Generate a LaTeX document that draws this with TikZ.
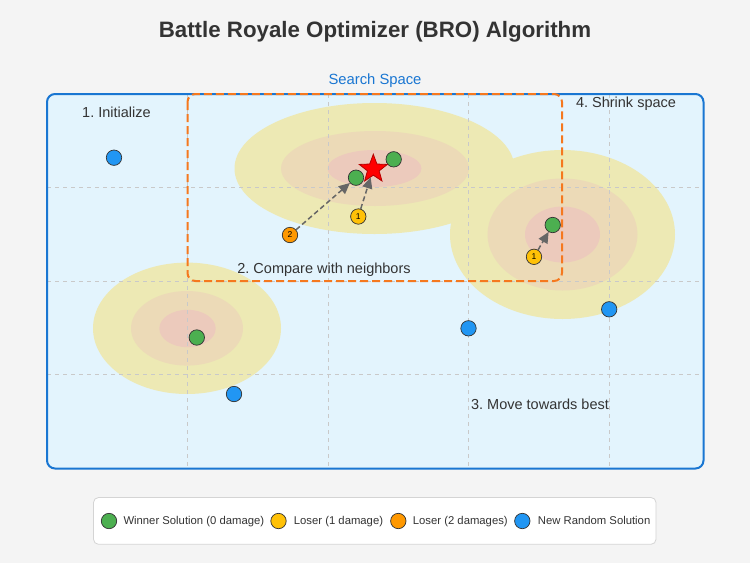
\documentclass[tikz,border=0pt]{standalone}
\usepackage{fontspec}
\setmainfont{Liberation Sans}
\usetikzlibrary{shapes.geometric,arrows.meta}
\frenchspacing
\definecolor{bgc}{HTML}{F4F4F4}
\definecolor{txt}{HTML}{333333}
\definecolor{boxblue}{HTML}{1976D2}
\definecolor{boxfill}{HTML}{E3F4FD}
\definecolor{gridc}{HTML}{C9C9C9}
\definecolor{zoneA}{HTML}{EDE9B4}
\definecolor{zoneB}{HTML}{ECDAB7}
\definecolor{zoneC}{HTML}{ECCABC}
\definecolor{orangeline}{HTML}{F5781E}
\definecolor{wincol}{HTML}{4CAF50}
\definecolor{lose1}{HTML}{FFC107}
\definecolor{lose2}{HTML}{FF9800}
\definecolor{randcol}{HTML}{2196F3}
\definecolor{arrowc}{HTML}{666666}
\definecolor{legstroke}{HTML}{D4D4D4}
\tikzset{
  sol/.style={circle, minimum size=15.4pt, inner sep=0pt, draw=txt, line width=0.7pt},
  winner/.style={sol, fill=wincol},
  loserone/.style={sol, fill=lose1, font=\fontsize{8.5}{9}\selectfont},
  losertwo/.style={sol, fill=lose2, font=\fontsize{8.5}{9}\selectfont},
  randsol/.style={sol, fill=randcol},
  gridline/.style={gridc, line width=0.8pt, dash pattern=on 4pt off 4pt},
  steplabel/.style={text=txt, font=\fontsize{14.5}{17}\selectfont, anchor=base, inner sep=0pt},
  legtext/.style={text=txt, font=\fontsize{11.3}{13}\selectfont, anchor=base west, inner sep=0pt},
  moveto/.style={arrowc, line width=1.5pt, dash pattern=on 5pt off 3pt, -{Triangle[length=11pt,width=10pt]}},
}
\begin{document}
\begin{tikzpicture}[x=1pt,y=-1pt]
\useasboundingbox (0,0) rectangle (750,563);
\fill[bgc] (0,0) rectangle (750,563);

% title
\node[text=txt, font=\fontsize{22.3}{26}\selectfont\bfseries, anchor=base, inner sep=0pt] (title) at (375,37.7) {Battle Royale Optimizer (BRO) Algorithm};

% search space
\node[text=boxblue, font=\fontsize{14.8}{17}\selectfont, anchor=base, inner sep=0pt] (sslabel) at (375,84.5) {Search Space};
\fill[boxfill, rounded corners=8pt] (47,94) rectangle (703.5,468.5);

% zones: outer
\fill[zoneA] (374.5,168.5) ellipse [x radius=140pt, y radius=65.5pt];
\fill[zoneA] (562.5,234.5) ellipse [x radius=112.5pt, y radius=84.5pt];
\fill[zoneA] (187,328.3) ellipse [x radius=94pt, y radius=65.7pt];
% middle
\fill[zoneB] (375,168.5) ellipse [x radius=94pt, y radius=37.5pt];
\fill[zoneB] (562.5,234.5) ellipse [x radius=75pt, y radius=56pt];
\fill[zoneB] (187,328.3) ellipse [x radius=56pt, y radius=37.3pt];
% inner
\fill[zoneC] (374.5,168.5) ellipse [x radius=47pt, y radius=18.5pt];
\fill[zoneC] (562.5,234.5) ellipse [x radius=37.5pt, y radius=28pt];
\fill[zoneC] (187.5,328.5) ellipse [x radius=28.2pt, y radius=18.7pt];

% grid
\foreach \gx in {187.6,328.2,468.8,609.4}
  \draw[gridline] (\gx,94) -- (\gx,468.5);
\foreach \gy in {187.6,281.2,374.8}
  \draw[gridline] (47,\gy) -- (703.5,\gy);

% search space border
\draw[boxblue, line width=2pt, rounded corners=8pt] (47,94) rectangle (703.5,468.5);

% shrink region
\draw[orangeline, line width=2pt, dash pattern=on 8pt off 4pt, rounded corners=8pt] (187.5,94) rectangle (562,281);

% step labels
\node[steplabel] (s1) at (116.5,117.3) {1. Initialize};
\node[steplabel] (s2) at (324,273.5) {2. Compare with neighbors};
\node[steplabel] (s3) at (540,409.3) {3. Move towards best};
\node[steplabel] (s4) at (626,107.3) {4. Shrink space};

% solutions
\node[randsol] (r1) at (114,157.7) {};
\node[randsol] (r2) at (468.5,328.3) {};
\node[randsol] (r3) at (609.2,309.3) {};
\node[randsol] (r4) at (234,394) {};

\node[winner] (g1) at (196.8,337.5) {};
\node[winner] (g2) at (356,177.7) {};
\node[winner] (g3) at (393.7,159.3) {};
\node[winner] (g4) at (552.7,225) {};

\node[star, star points=5, star point ratio=2.4, minimum size=29.5pt, inner sep=0pt,
      fill=red, draw=red!70!black, line width=0.8pt] (best) at (373.3,169) {};

\node[loserone] (y1) at (358.3,216.5) {1};
\node[loserone] (y2) at (534,256.8) {1};
\node[losertwo] (o1) at (290,235) {2};

\draw[moveto] (o1) -- (g2);
\draw[moveto] (y1) -- (best);
\draw[moveto] (y2) -- (g4);

% legend
\draw[legstroke, fill=white, line width=0.8pt, rounded corners=5pt] (93.5,497.5) rectangle (656,544.3);
\node[winner] (lg) at (109,521) {};
\node[legtext] (lgt) at (123.3,524.6) {Winner Solution (0 damage)};
\node[sol, fill=lose1] (ly) at (278.5,521) {};
\node[legtext] (lyt) at (293.7,524.6) {Loser (1 damage)};
\node[sol, fill=lose2] (lo) at (398.3,521) {};
\node[legtext] (lot) at (412.7,524.6) {Loser (2 damages)};
\node[randsol] (lb) at (522.3,521) {};
\node[legtext] (lbt) at (537.7,524.6) {New Random Solution};
\end{tikzpicture}
\end{document}
